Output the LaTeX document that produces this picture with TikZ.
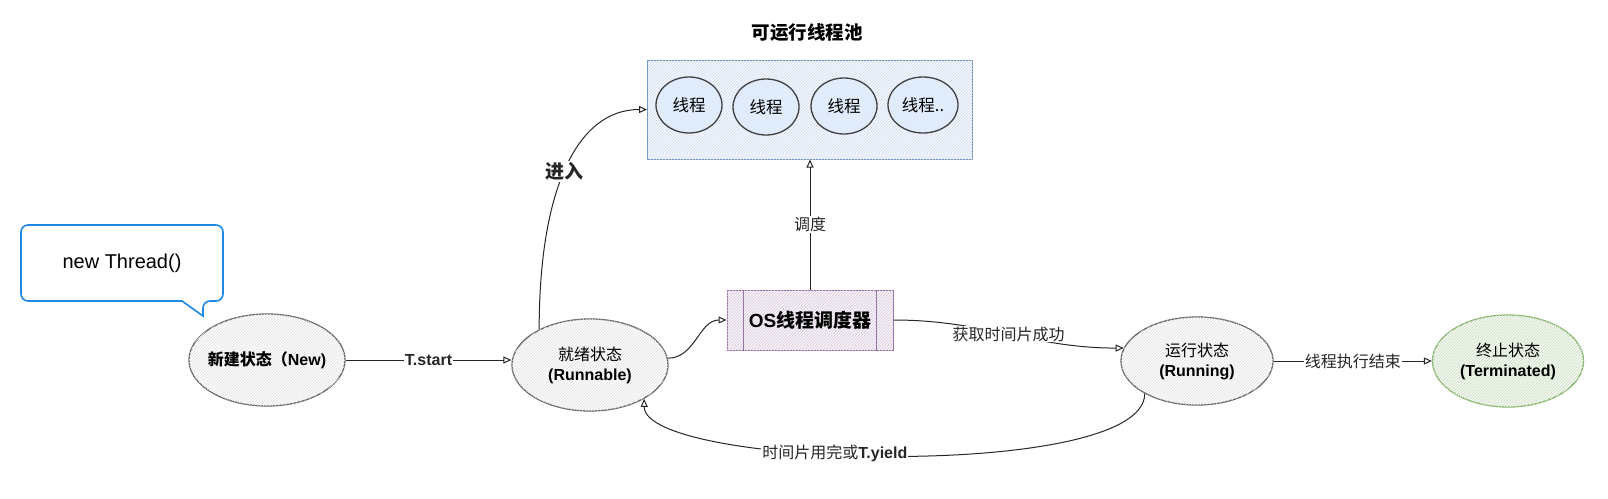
\documentclass[tikz,border=0pt]{standalone}
\usepackage{fontspec}
\setmainfont{Liberation Sans}
\newfontfamily\cjk{Noto Sans CJK SC}
\usetikzlibrary{arrows.meta, positioning, shapes.geometric, patterns}
\definecolor{PoolBlue}{HTML}{6C8EBF}
\definecolor{PoolFill}{HTML}{DAE8FC}
\definecolor{OsPurple}{HTML}{9673A6}
\definecolor{OsFill}{HTML}{E1D5E7}
\definecolor{EndGreen}{HTML}{82B366}
\definecolor{CallBlue}{HTML}{1E88E5}
\definecolor{StateGray}{HTML}{666666}

\begin{document}
\begin{tikzpicture}[x=1pt, y=-1pt, >=Stealth,
    state/.style={ellipse, draw=StateGray, line width=1.3pt, fill=gray!3,
        postaction={pattern=north east lines, pattern color=gray!22},
        minimum width=156, minimum height=92, inner sep=0pt, align=center,
        font=\fontsize{16}{20}\selectfont},
    thread/.style={ellipse, draw=black!75, line width=1.3pt, fill=PoolFill!85,
        minimum width=66, minimum height=56, inner sep=0pt,
        font=\cjk\fontsize{16.5}{18}\selectfont},
    link/.style={-{Triangle[open, length=8pt, width=7pt]}, line width=1pt, black!85},
    lbl/.style={fill=white, inner sep=1pt, font=\fontsize{16}{18}\selectfont}]
        \useasboundingbox (0,0) rectangle (1608,498);

        % Thread pool box with its threads
        \node[draw=PoolBlue, line width=1pt, fill=PoolFill!25,
            postaction={pattern=north east lines, pattern color=PoolBlue!32},
            minimum width=325, minimum height=99] (pool) at (810,109.5) {};
        \node[font=\cjk\bfseries\fontsize{18.5}{20}\selectfont] (pooltitle) at (807,33) {可运行线程池};
        \node[thread] (t1) at (689,105) {线程};
        \node[thread] (t2) at (766,107) {线程};
        \node[thread] (t3) at (844,106) {线程};
        \node[thread, minimum width=70] (t4) at (923,105) {线程..};

        % Callout
        \draw[CallBlue, line width=1.6pt, fill=white, rounded corners=7pt]
            (21,263) |- (223,225) |- (203,301) [sharp corners] -- (203,316) -- (182,301)
            [rounded corners=7pt] -| (21,263);
        \node[font=\fontsize{20}{22}\selectfont] (callout) at (122,263) {new Thread()};

        % States
        \node[state, inner xsep=-12pt] (new) at (267,360) {\bfseries{\cjk 新建状态（}New)};
        \node[state] (runnable) at (590,365) {{\cjk 就绪状态}\\\textbf{(Runnable)}};
        \node[state, minimum width=152, minimum height=88] (running) at (1197,361)
            {{\cjk 运行状态}\\\textbf{(Running)}};
        \node[state, draw=EndGreen, fill=EndGreen!6,
            postaction={pattern=north east lines, pattern color=EndGreen!40},
            minimum width=151] (terminated) at (1508,361)
            {{\cjk 终止状态}\\\textbf{(Terminated)}};

        % OS scheduler
        \node[draw=OsPurple, line width=1pt, fill=OsFill!25,
            postaction={pattern=north east lines, pattern color=OsPurple!40},
            minimum width=166, minimum height=60,
            font=\bfseries\fontsize{19}{22}\selectfont] (os) at (810,320)
            {OS{\cjk 线程调度器}};
        \draw[OsPurple, line width=1pt] ([xshift=17]os.north west) -- ([xshift=17]os.south west);
        \draw[OsPurple, line width=1pt] ([xshift=-17]os.north east) -- ([xshift=-17]os.south east);

        % Transitions
        \draw[link] (new.east) -- node[lbl]{\textbf{T.start}} (new.east -| runnable.west);
        \draw[link] (runnable.145) .. controls +(0,-140) and +(-70,0) .. (pool.west)
            node[pos=0.48, lbl, font=\cjk\bfseries\fontsize{19}{21}\selectfont] {进入};
        \draw[link] (runnable.5) to[out=0, in=180] (os.west);
        \draw[link] (os) -- node[lbl, font=\cjk\fontsize{16}{18}\selectfont]{调度} (pool);
        \draw[link] (os.east) to[out=0, in=180]
            node[lbl, font=\cjk\fontsize{16}{18}\selectfont]{获取时间片成功} (running.170);
        \draw[link] (running) -- node[lbl, font=\cjk\fontsize{16}{18}\selectfont]{线程执行结束} (terminated);
        \draw[link] (running.-148) .. controls +(0,88) and +(0,70) ..
            node[lbl, pos=0.58]{{\cjk 时间片用完或}\textbf{T.yield}} (runnable.-32);
    \end{tikzpicture}
\end{document}
